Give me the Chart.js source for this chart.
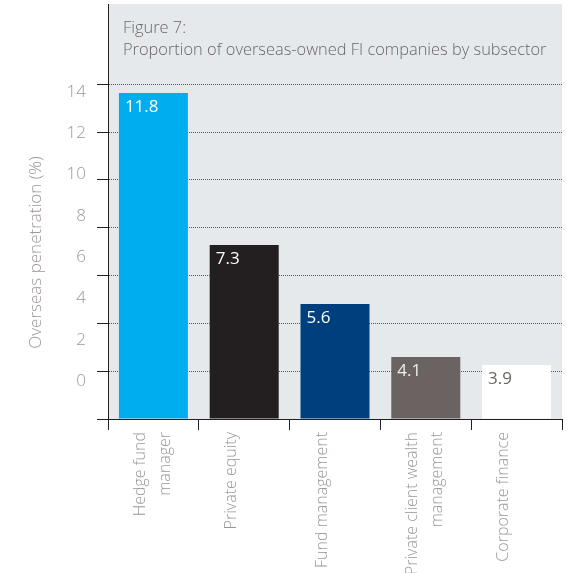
<!DOCTYPE html>
<html>
<head>
<meta charset="utf-8">
<script src="https://cdn.jsdelivr.net/npm/chart.js@4"></script>
<style>
  html, body { margin: 0; padding: 0; background: #fff; }
  #wrap { width: 571px; height: 573px; }
</style>
</head>
<body>
<div id="wrap"><canvas id="chart"></canvas></div>
<script>
const titleLines = ['Figure 7:', 'Proportion of overseas-owned FI companies by subsector'];
const yTitle = 'Overseas penetration (%)';
const categories = [['Hedge fund', 'manager'], 'Private equity', 'Fund management', ['Private client wealth', 'management'], 'Corporate finance'];
// value printed on each bar
const shareLabels = ['11.8', '7.3', '5.6', '4.1', '3.9'];
// bar heights as drawn, read against the dotted gridlines
const barHeights = [13.64, 7.28, 4.81, 2.59, 2.26];
const yTicks = [0, 2, 4, 6, 8, 10, 12, 14];

const barColors = ['#00aeef', '#231f20', '#003f7e', '#6b6361', '#ffffff'];
const labelColors = ['#ffffff', '#ffffff', '#ffffff', '#eeeeee', '#6b6361'];
const FONT = '"Open Sans", "DejaVu Sans", sans-serif';
const AXIS = '#231f20';
const MUTED = '#9d9795';

// grey panel behind the plot, value labels, titles
const decorations = {
    id: 'decorations',
    beforeDraw(chart) {
        const { ctx, chartArea: a } = chart;
        ctx.save();
        ctx.fillStyle = '#e6e9ec';
        ctx.fillRect(a.left, a.top, a.right - a.left, a.bottom - a.top);
        ctx.restore();
    },
    afterDatasetsDraw(chart) {
        const { ctx, chartArea: a } = chart;
        const bars = chart.getDatasetMeta(0).data;
        ctx.save();
        ctx.font = '400 17px ' + FONT;
        ctx.textBaseline = 'middle';
        ctx.textAlign = 'left';
        bars.forEach((bar, i) => {
            ctx.fillStyle = labelColors[i];
            ctx.fillText(shareLabels[i], bar.x - bar.width / 2 + 6, bar.y + 14);
        });

        ctx.fillStyle = '#6d6563';
        ctx.font = '300 16.4px ' + FONT;
        ctx.textBaseline = 'alphabetic';
        ctx.fillText(titleLines[0], a.left + 15, 33);
        ctx.fillText(titleLines[1], a.left + 15, 55);

        ctx.translate(a.left - 72, (a.top + a.bottom) / 2 + 41);
        ctx.rotate(-Math.PI / 2);
        ctx.textAlign = 'center';
        ctx.textBaseline = 'middle';
        ctx.fillStyle = MUTED;
        ctx.font = '300 17px ' + FONT;
        ctx.fillText(yTitle, 0, 0);
        ctx.restore();
    }
};

new Chart(document.getElementById('chart'), {
    type: 'bar',
    data: {
        labels: categories,
        datasets: [{
            data: barHeights,
            backgroundColor: barColors,
            borderWidth: 0,
            barPercentage: 0.76,
            categoryPercentage: 1
        }]
    },
    options: {
        responsive: true,
        maintainAspectRatio: false,
        animation: false,
        layout: { padding: { top: 4, right: 9, left: 0, bottom: 0 } },
        plugins: {
            legend: { display: false },
            tooltip: { enabled: false }
        },
        scales: {
            x: {
                grid: { drawOnChartArea: false, drawTicks: true, tickLength: 11, tickColor: AXIS, offset: true },
                border: { display: true, color: AXIS, width: 1 },
                ticks: {
                    minRotation: 90,
                    maxRotation: 90,
                    autoSkip: false,
                    padding: 2,
                    labelOffset: -13,
                    color: MUTED,
                    font: { family: FONT, size: 16, weight: '300', lineHeight: 1.55 }
                },
                afterFit: s => { s.height = 154; s.paddingLeft = 0; s.paddingRight = 0; }
            },
            y: {
                position: 'left',
                weight: 0,
                min: 0,
                max: 17.36,
                afterBuildTicks: s => { s.ticks = yTicks.map(v => ({ value: v })); },
                grid: {
                    color: c => (c.tick && c.tick.value === 0) ? 'rgba(0,0,0,0)' : '#555555',
                    tickColor: AXIS,
                    tickLength: 11,
                    drawTicks: true
                },
                border: { display: true, color: AXIS, width: 1, dash: [1, 1] },
                ticks: { display: false },
                afterFit: s => { s.width = 11; s.paddingTop = 0; s.paddingBottom = 0; }
            },
            y2: {
                position: 'left',
                weight: 10,
                min: -1.83,
                max: 18.26,
                afterBuildTicks: s => { s.ticks = yTicks.map(v => ({ value: v })); },
                grid: { display: false, drawTicks: false },
                border: { display: false },
                ticks: { padding: 11, color: MUTED, font: { family: FONT, size: 17, weight: '300' } },
                afterFit: s => { s.width = 97; s.paddingTop = 0; s.paddingBottom = 0; }
            }
        }
    },
    plugins: [decorations]
});
</script>
</body>
</html>
